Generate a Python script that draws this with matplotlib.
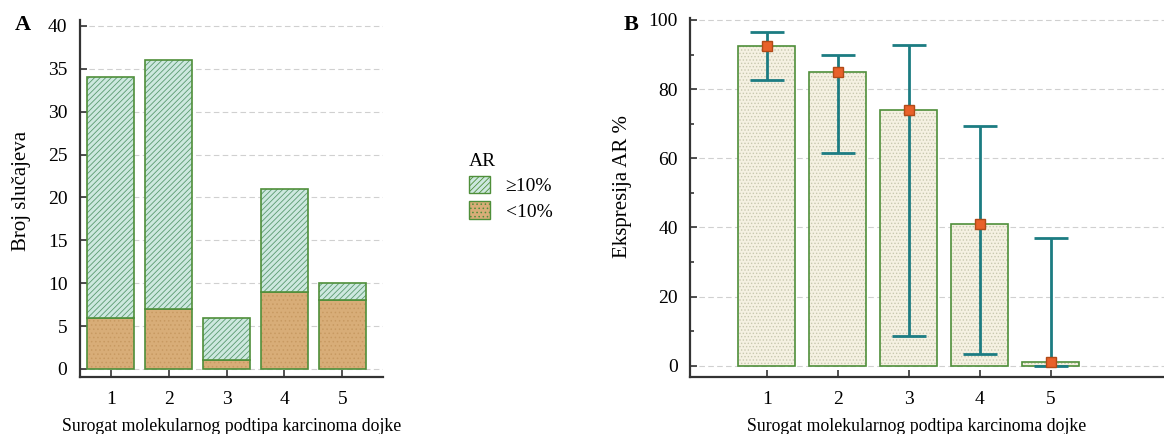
import matplotlib.pyplot as plt
from matplotlib.patches import Patch
from matplotlib.ticker import MultipleLocator

plt.rcParams['font.family'] = ['Liberation Serif', 'DejaVu Serif']
plt.rcParams['hatch.linewidth'] = 0.6

# data
subtypes = [1, 2, 3, 4, 5]
low_ar = [6, 7, 1, 9, 8]          # <10%
high_ar = [28, 29, 5, 12, 2]      # >=10%
ar_mean = [92.5, 85, 74, 41, 1]
ar_upper = [96.5, 90, 92.8, 69.3, 36.8]
ar_lower = [82.7, 61.5, 8.5, 3.3, 0]

edge_green = '#4f8f3a'
teal = '#1c7c82'

fig = plt.figure(figsize=(11.64, 4.34), dpi=100)
ax1 = fig.add_axes([0.0687, 0.131, 0.2603, 0.823])
ax2 = fig.add_axes([0.593, 0.131, 0.407, 0.827])


def style_axis(ax):
    for s in ['top', 'right']:
        ax.spines[s].set_visible(False)
    for s in ['left', 'bottom']:
        ax.spines[s].set_linewidth(1.6)
        ax.spines[s].set_color('#333333')
    ax.tick_params(direction='in', length=5, width=1.2, labelsize=14, color='#333333')
    ax.tick_params(axis='y', pad=9)
    ax.tick_params(axis='x', pad=10)
    ax.yaxis.grid(True, linestyle=(0, (5, 3)), color='#d0d0d0', linewidth=0.8)
    ax.set_axisbelow(True)


# panel A
ax1.bar(subtypes, low_ar, width=0.82, color='#d8ad78', hatch='....', edgecolor='#c89a62', linewidth=0)
ax1.bar(subtypes, low_ar, width=0.82, fill=False, edgecolor=edge_green, linewidth=1.2)
ax1.bar(subtypes, high_ar, bottom=low_ar, width=0.82, color='#cde8df', hatch='//////', edgecolor='#5a9a70', linewidth=0)
ax1.bar(subtypes, high_ar, bottom=low_ar, width=0.82, fill=False, edgecolor=edge_green, linewidth=1.2)
style_axis(ax1)
ax1.set_xlim(0.47, 5.7)
ax1.set_ylim(-0.95, 40.7)
ax1.yaxis.set_major_locator(MultipleLocator(5))
ax1.set_xticks(subtypes)
ax1.set_ylabel('Broj slučajeva', fontsize=15)
ax1.yaxis.set_label_coords(-0.16, 0.52)
ax1.set_xlabel('Surogat molekularnog podtipa karcinoma dojke', fontsize=12.8)
ax1.xaxis.set_label_coords(0.5, -0.115)

handles = [Patch(facecolor='#cde8df', edgecolor=edge_green, hatch='//////'),
           Patch(facecolor='#d8ad78', edgecolor=edge_green, hatch='....')]
leg = fig.legend(handles, ['≥10%', '<10%'], title='AR', loc='upper left',
                 bbox_to_anchor=(0.396, 0.665), frameon=False, fontsize=14,
                 title_fontsize=14, handlelength=1.1, handleheight=1.0,
                 handletextpad=0.8, labelspacing=0.3, borderaxespad=0)
leg._legend_box.align = 'left'

# panel B
ax2.bar(subtypes, ar_mean, width=0.8, color='#f5f1e2', hatch='.....', edgecolor='#c8c8b0', linewidth=0)
ax2.bar(subtypes, ar_mean, width=0.8, fill=False, edgecolor=edge_green, linewidth=1.2)
err_lo = [m - l for m, l in zip(ar_mean, ar_lower)]
err_hi = [u - m for m, u in zip(ar_mean, ar_upper)]
ax2.errorbar(subtypes, ar_mean, yerr=[err_lo, err_hi], fmt='none', ecolor=teal,
             elinewidth=2, capsize=12, capthick=2, zorder=4)
ax2.plot(subtypes, ar_mean, 's', color='#e8612a', markeredgecolor='#b04a18',
         markersize=7, zorder=5)
style_axis(ax2)
ax2.set_xlim(-0.08, 6.6)
ax2.set_ylim(-3.3, 100.5)
ax2.yaxis.set_major_locator(MultipleLocator(20))
ax2.yaxis.set_minor_locator(MultipleLocator(10))
ax2.tick_params(axis='y', which='minor', direction='in', length=3, width=1.2, color='#333333')
ax2.set_xticks(subtypes)
ax2.set_ylabel('Ekspresija AR %', fontsize=15)
ax2.yaxis.set_label_coords(-0.123, 0.53)
ax2.set_xlabel('Surogat molekularnog podtipa karcinoma dojke', fontsize=12.8)
ax2.xaxis.set_label_coords(0.477, -0.115)

fig.text(0.013, 0.93, 'A', fontsize=16, fontweight='bold')
fig.text(0.536, 0.93, 'B', fontsize=16, fontweight='bold')

fig.savefig('out.png', dpi=100)
